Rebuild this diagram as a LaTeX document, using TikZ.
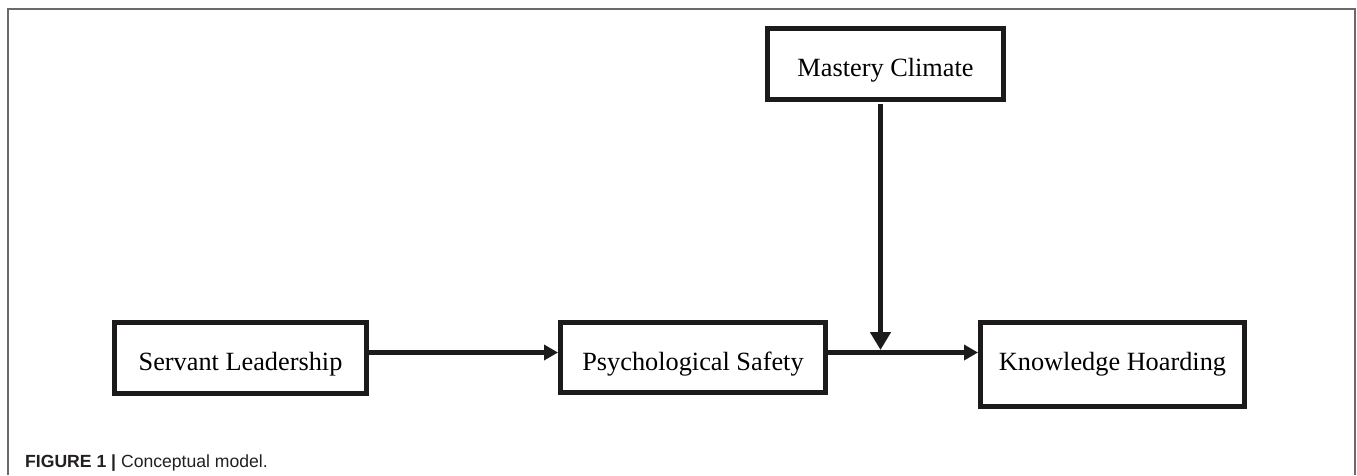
\documentclass[tikz,border=0pt]{standalone}
\usepackage{fontspec}
\setmainfont{Liberation Serif}
\newfontfamily\capfont{Liberation Sans}
\usetikzlibrary{arrows.meta}
\definecolor{ink}{HTML}{1C1A1B}
\definecolor{framegray}{HTML}{6A6A6A}
\definecolor{captext}{HTML}{231F20}
\tikzset{
  boxnode/.style={draw=ink, line width=5pt, rectangle, inner sep=0pt, anchor=base,
    text height=47.5pt, font=\fontsize{26.3}{31}\selectfont, align=center},
  harrow/.style={draw=ink, line width=5pt, -{Triangle[length=14pt,width=15pt]}},
  varrow/.style={draw=ink, line width=5pt, -{Triangle[length=18pt,width=20pt]}},
  framestyle/.style={draw=framegray, line width=1.5pt},
  captionstyle/.style={anchor=base west, inner sep=0pt, text=captext,
    font=\capfont\fontsize{17.6}{21}\selectfont}
}
\begin{document}
\begin{tikzpicture}[x=1pt,y=-1pt]
\useasboundingbox (0,0) rectangle (1357,475);
% frame
\draw[framestyle] (8,475) -- (8,9) -- (1355,9) -- (1355,475);
% boxes
\node[boxnode, text depth=23.5pt, minimum width=236pt] (mc) at (885.5,76) {Mastery Climate};
\node[boxnode, text depth=23.5pt, minimum width=252pt] (sl) at (240.5,370) {Servant Leadership};
\node[boxnode, text depth=22.5pt, minimum width=265pt] (ps) at (693,370) {Psychological Safety};
\node[boxnode, text depth=36.5pt, minimum width=264pt] (kh) at (1112.5,370) {Knowledge Hoarding};
% helper coordinates
\coordinate (ay) at (0,352.5);
\coordinate (jx) at (880.5,0);
\coordinate (j) at (880.5,350);
% connectors
\draw[harrow] (sl.east |- ay) -- (ps.west |- ay);
\draw[harrow] (ps.east |- ay) -- (kh.west |- ay);
\draw[varrow] (jx |- mc.south) ++(0,2) -- (j);
% caption
\node[captionstyle] (cap) at (25,467) {{\bfseries FIGURE 1 |} Conceptual model.};
\end{tikzpicture}
\end{document}
